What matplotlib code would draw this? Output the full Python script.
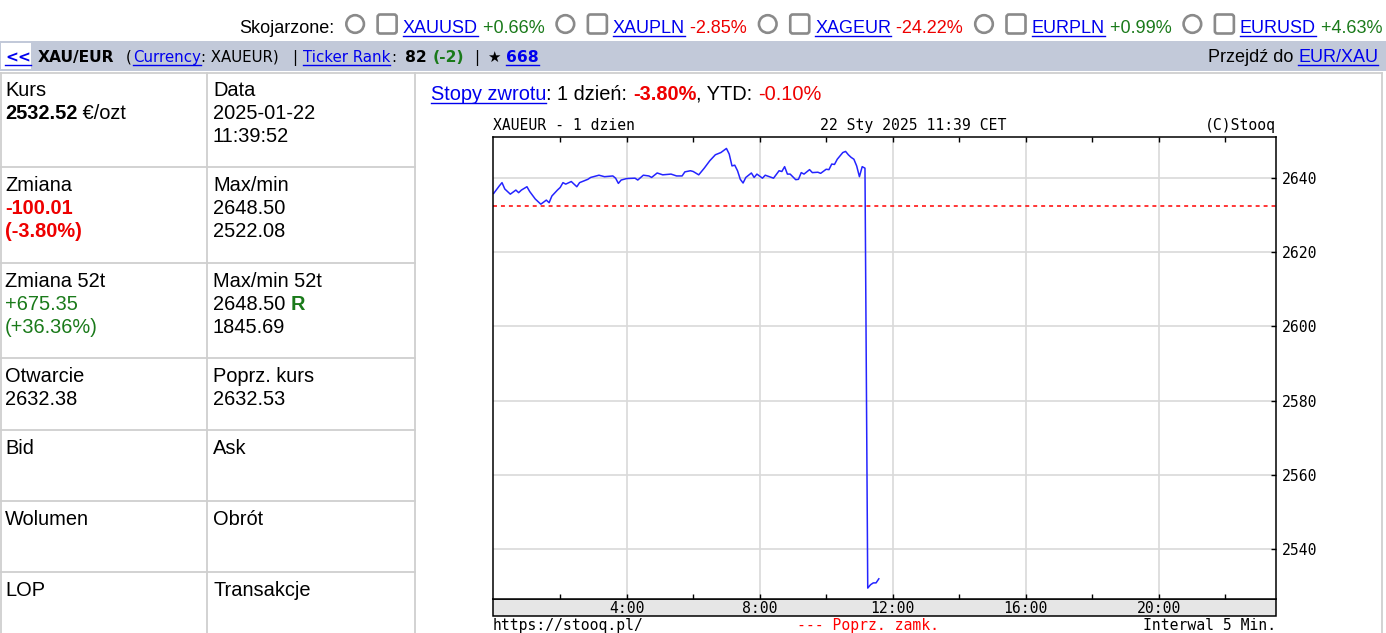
import numpy as np
import matplotlib.pyplot as plt
from matplotlib.patches import Rectangle, Circle, FancyBboxPatch

# --------------------------------------------
# Data
# --------------------------------------------
related_tickers = ["XAUUSD", "XAUPLN", "XAGEUR", "EURPLN", "EURUSD"]
related_changes = [0.66, -2.85, -24.22, 0.99, 4.63]

ticker_rank, rank_change, stars = 82, -2, 668
quote = 2532.52
day_change, day_change_pct = -100.01, -3.80
ytd_pct = -0.10
quote_date, quote_time = "2025-01-22", "11:39:52"
day_max, day_min = 2648.50, 2522.08
change_52w, change_52w_pct = 675.35, 36.36
max_52w, min_52w = 2648.50, 1845.69
open_price = 2632.38
prev_close = 2632.53

# intraday quotes: minutes after midnight / price
minutes = [0, 10, 15, 20, 30, 40, 45, 50, 60, 65,
           75, 85, 95, 100, 105, 115, 120, 125, 130, 140,
           150, 155, 170, 175, 190, 200, 215, 220, 225, 230,
           240, 255, 260, 270, 280, 285, 295, 305, 320, 330,
           340, 345, 355, 360, 370, 380, 390, 400, 410, 420,
           425, 430, 435, 440, 445, 450, 455, 465, 470, 475,
           485, 490, 505, 515, 520, 525, 530, 535, 545, 550,
           555, 560, 570, 575, 585, 590, 600, 605, 610, 615,
           620, 630, 635, 640, 645, 650, 655, 660, 665, 670,
           675, 680, 685, 690, 695]
prices = [2635.8, 2637.8, 2638.7, 2637.0, 2635.6, 2636.7, 2636.0, 2636.7, 2637.6, 2636.3,
          2634.3, 2632.9, 2634.0, 2633.3, 2635.1, 2636.7, 2637.4, 2638.7, 2638.3, 2639.0,
          2637.6, 2638.7, 2639.6, 2640.1, 2640.7, 2640.3, 2640.5, 2639.9, 2638.5, 2639.4,
          2639.8, 2639.9, 2639.4, 2640.7, 2640.5, 2640.1, 2641.3, 2640.8, 2641.0, 2640.5,
          2640.5, 2641.6, 2641.9, 2641.7, 2640.8, 2642.6, 2644.6, 2646.2, 2646.8, 2647.9,
          2646.4, 2643.2, 2643.4, 2641.9, 2639.6, 2638.6, 2640.1, 2641.3, 2640.1, 2641.0,
          2639.9, 2640.7, 2639.9, 2641.9, 2641.7, 2643.0, 2641.0, 2641.0, 2639.5, 2639.6,
          2641.4, 2641.0, 2642.2, 2641.4, 2641.5, 2641.2, 2642.3, 2642.2, 2643.7, 2643.6,
          2645.0, 2646.8, 2647.1, 2646.2, 2645.5, 2645.0, 2643.2, 2640.3, 2643.0, 2642.6,
          2529.6, 2530.5, 2531.0, 2531.0, 2532.1]

x_ticks = [4, 8, 12, 16, 20]
x_minor = [2, 6, 10, 14, 18, 22]
y_ticks = [2540, 2560, 2580, 2600, 2620, 2640]

BLUE = "#0000ee"
GREEN = "#1a7a1a"
RED = "#ee0000"
GREY_LINE = "#cfcfcf"

plt.rcParams["font.family"] = "DejaVu Sans Mono"

# --------------------------------------------
# Page canvas in pixel units
# --------------------------------------------
fig = plt.figure(figsize=(13.86, 6.33), dpi=100)
page = fig.add_axes([0, 0, 1, 1])
page.set_xlim(0, 1386)
page.set_ylim(633, 0)
page.axis("off")
renderer = fig.canvas.get_renderer()


def text_width(s, **kw):
    probe = page.text(0, 0, "|" + s + "|", **kw)
    bars = page.text(0, 0, "||", **kw)
    w = probe.get_window_extent(renderer).width - bars.get_window_extent(renderer).width
    probe.remove()
    bars.remove()
    return w


def write(x, y, pieces, size, family="Liberation Sans"):
    # pieces: (text, color, bold, underlined)
    for s, color, bold, link in pieces:
        kw = dict(fontsize=size, family=family, fontweight="bold" if bold else "normal")
        page.text(x, y, s, color=color, va="baseline", ha="left", **kw)
        w = text_width(s, **kw)
        if link:
            page.plot([x, x + w], [y + 2.5, y + 2.5], color=color, lw=1.0)
        x += w
    return x


def signed(v):
    return f"{v:+.2f}"


# --------------------------------------------
# Top row: related instruments
# --------------------------------------------
x = write(239, 33, [("Skojarzone:", "black", False, False)], 13)
for tick, chg in zip(related_tickers, related_changes):
    cx = x + 21
    page.add_patch(Circle((cx, 24), 8.8, fill=False, ec="#8a8a8a", lw=1.9))
    bx = cx + 22.5
    page.add_patch(FancyBboxPatch((bx, 14.5), 19, 19, boxstyle="round,pad=0,rounding_size=2.5",
                                  fill=False, ec="#8a8a8a", lw=1.9))
    x = write(bx + 25, 33, [(tick, BLUE, False, True)], 13)
    x = write(x, 33, [(" " + signed(chg) + "%", GREEN if chg > 0 else RED, False, False)], 13)

# --------------------------------------------
# Header bar
# --------------------------------------------
page.add_patch(Rectangle((0, 41), 1386, 30, color="#c2c9d9", lw=0))
page.add_patch(Rectangle((1, 43), 30, 26, color="white", lw=0))
header = [
    (5, "<<", BLUE, True, True),
    (38, "XAU/EUR", "black", True, False),
    (126, "(", "black", False, False),
    (133, "Currency", BLUE, False, True),
    (201, ": XAUEUR)", "black", False, False),
    (292, "|", "black", False, False),
    (303, "Ticker Rank", BLUE, False, True),
    (391, ":", "black", False, False),
    (405, str(ticker_rank), "black", True, False),
    (433, f"({rank_change})", GREEN, True, False),
    (474, "|", "black", False, False),
    (487, "\u2605", "black", False, False),
    (506, str(stars), BLUE, True, True),
]
for hx, s, color, bold, link in header:
    write(hx, 62, [(s, color, bold, link)], 11.2 if bold else 10.8, family="DejaVu Sans")

goto = [("Przejdź do ", "black", False, False), ("EUR/XAU", BLUE, False, True)]
goto_w = sum(text_width(s, fontsize=13, family="Liberation Sans") for s, *_ in goto)
write(1378 - goto_w, 62, goto, 13)

# --------------------------------------------
# Quote table
# --------------------------------------------
row_lines = [167, 263, 358, 430, 501, 572]
for ry in row_lines:
    page.plot([0, 415], [ry, ry], color=GREY_LINE, lw=1.3)
page.plot([0, 1382], [73, 73], color=GREY_LINE, lw=1.3)
for vx in [0.7, 207, 415, 1382]:
    page.plot([vx, vx], [73, 633], color=GREY_LINE, lw=1.3)

row_base = [96, 191, 287, 382, 454, 525, 596]
lh = 23
cells_left = [
    [[("Kurs", "black", False)], [(f"{quote:.2f}", "black", True), (" €/ozt", "black", False)]],
    [[("Zmiana", "black", False)], [(f"{day_change:.2f}", RED, True)], [(f"({day_change_pct:.2f}%)", RED, True)]],
    [[("Zmiana 52t", "black", False)], [(signed(change_52w), GREEN, False)], [(f"({signed(change_52w_pct)}%)", GREEN, False)]],
    [[("Otwarcie", "black", False)], [(f"{open_price:.2f}", "black", False)]],
    [[("Bid", "black", False)]],
    [[("Wolumen", "black", False)]],
    [[("LOP", "black", False)]],
]
cells_right = [
    [[("Data", "black", False)], [(quote_date, "black", False)], [(quote_time, "black", False)]],
    [[("Max/min", "black", False)], [(f"{day_max:.2f}", "black", False)], [(f"{day_min:.2f}", "black", False)]],
    [[("Max/min 52t", "black", False)], [(f"{max_52w:.2f} ", "black", False), ("R", GREEN, True)], [(f"{min_52w:.2f}", "black", False)]],
    [[("Poprz. kurs", "black", False)], [(f"{prev_close:.2f}", "black", False)]],
    [[("Ask", "black", False)]],
    [[("Obrót", "black", False)]],
    [[("Transakcje", "black", False)]],
]
for col_x, cells in [(5, cells_left), (213, cells_right)]:
    for base, lines in zip(row_base, cells):
        for i, line in enumerate(lines):
            write(col_x, base + i * lh, [(s, c, b, False) for s, c, b in line], 14.4)

# --------------------------------------------
# Returns line above the chart
# --------------------------------------------
write(431, 100, [("Stopy zwrotu", BLUE, False, True),
                 (": 1 dzień: ", "black", False, False),
                 (f"{day_change_pct:.2f}%", RED, True, False),
                 (", YTD: ", "black", False, False),
                 (f"{ytd_pct:.2f}%", RED, False, False)], 14.4)

# --------------------------------------------
# Intraday chart
# --------------------------------------------
L, R, T, B = 492.7, 1275.7, 137.3, 598.5
page.add_patch(Rectangle((L, B), R - L, 17.5, facecolor="#e6e6e6", edgecolor="black", lw=1.1))

ax = fig.add_axes([L / 1386, 1 - B / 633, (R - L) / 1386, (B - T) / 633])
hours = np.array(minutes) / 60.0
ax.plot(hours, prices, color="#2424ff", lw=1.1)
ax.axhline(prev_close, color="#ff0000", lw=1.1, ls=(0, (2.6, 2.6)))

ax.set_xlim(-0.03, 23.52)
ax.set_ylim(2526.8, 2650.9)
ax.set_xticks(x_ticks)
ax.set_xticks(x_minor, minor=True)
ax.set_xticklabels([f"{h}:00" for h in x_ticks])
ax.set_yticks(y_ticks)
ax.set_yticklabels([str(v) for v in y_ticks])
ax.grid(True, which="major", color="#d9d9d9", lw=1.2)
ax.set_axisbelow(True)

ax.tick_params(axis="x", which="both", direction="in", top=True, bottom=True,
               length=3.6, width=1.0, labelsize=10.6, pad=1.5)
ax.tick_params(axis="y", which="both", direction="in", left=False, right=True,
               labelleft=False, labelright=True, length=3.6, width=1.0,
               labelsize=10.6, pad=4.5)
for sp in ax.spines.values():
    sp.set_linewidth(1.1)

mono = dict(fontsize=10.6, family="DejaVu Sans Mono", va="baseline")
page.text(L, 130, "XAUEUR - 1 dzien", ha="left", **mono)
page.text(820, 130, "22 Sty 2025 11:39 CET", ha="left", **mono)
page.text(R, 130, "(C)Stooq", ha="right", **mono)
# chart footer sits at the page's bottom edge
page.text(L, 630, "https://stooq.pl/", ha="left", **mono)
page.text(797, 630, "--- Poprz. zamk.", ha="left", color="#ff0000", **mono)
page.text(R, 630, "Interwal 5 Min.", ha="right", **mono)

fig.savefig("out.png", dpi=100)
